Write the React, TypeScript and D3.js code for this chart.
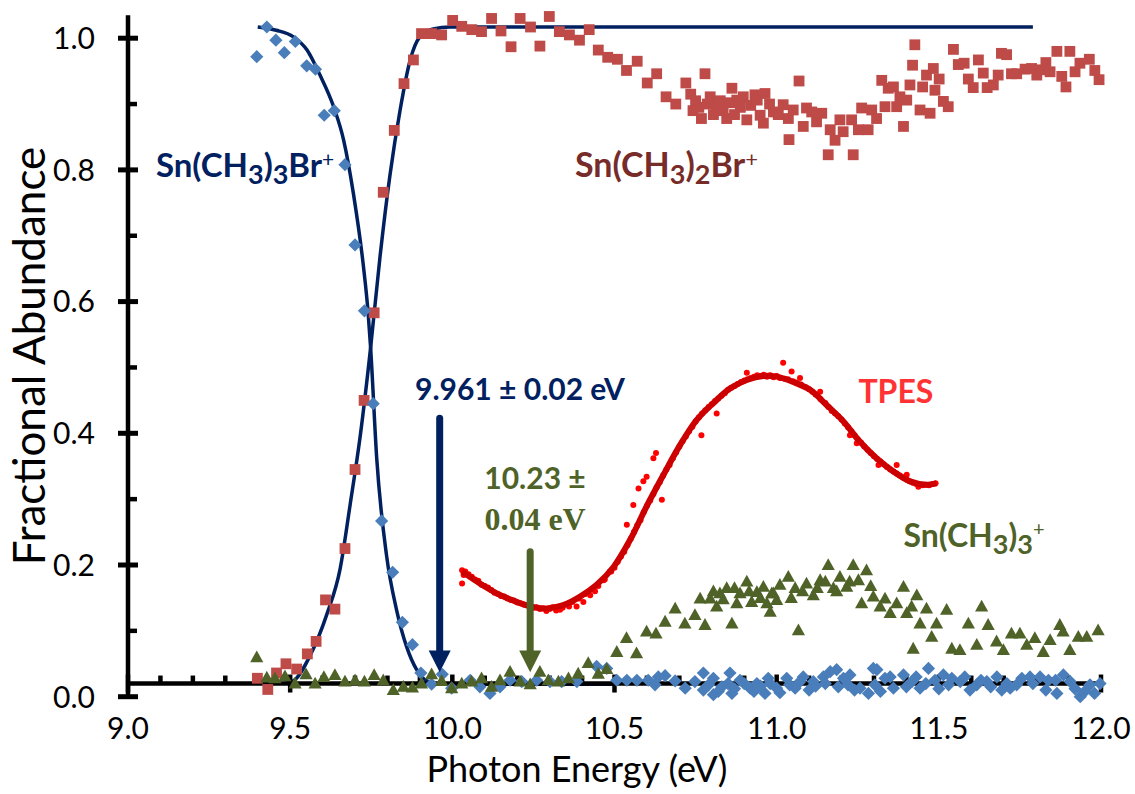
import React from 'react';
import * as d3 from 'd3';

const W = 1135;
const H = 794;

const xTickValues = [9.0, 9.5, 10.0, 10.5, 11.0, 11.5, 12.0];
const xTickLabels = ['9.0', '9.5', '10.0', '10.5', '11.0', '11.5', '12.0'];
const xMinorValues = [9.1, 9.2, 9.3, 9.4, 9.6, 9.7, 9.8, 9.9, 10.1, 10.2, 10.3, 10.4, 10.6, 10.7, 10.8, 10.9, 11.1, 11.2, 11.3, 11.4, 11.6, 11.7, 11.8, 11.9];
const yTickValues = [0, 0.2, 0.4, 0.6, 0.8, 1.0];
const yTickLabels = ['0.0', '0.2', '0.4', '0.6', '0.8', '1.0'];
const yMinorValues = [0.1, 0.3, 0.5, 0.7, 0.9];

// Sn(CH3)3Br+ (parent ion) – diamonds
const parentIon: [number, number][] = [
  [9.397, 0.972], [9.428, 1.017], [9.456, 0.997], [9.482, 0.978], [9.516, 0.995], [9.551, 0.958], [9.578, 0.953],
  [9.605, 0.883], [9.636, 0.890], [9.669, 0.808], [9.700, 0.686], [9.729, 0.586], [9.756, 0.445], [9.782, 0.267],
  [9.816, 0.189], [9.846, 0.113], [9.877, 0.079], [9.903, 0.036], [9.936, 0.019], [9.969, 0.034],
  [9.998, 0.013], [10.055, 0.025], [10.085, 0.015], [10.116, 0.005], [10.147, 0.015], [10.178, 0.025], [10.214, 0.023],
  [10.260, 0.025], [10.301, 0.023], [10.337, 0.023], [10.384, 0.023], [10.445, 0.046], [10.476, 0.043], [10.507, 0.025],
  [10.538, 0.025], [10.569, 0.025], [10.604, 0.025], [10.635, 0.030], [10.625, 0.018], [10.656, 0.032], [10.687, 0.024],
  [10.718, 0.013], [10.748, 0.023], [10.774, 0.036], [10.774, 0.010], [10.805, 0.028], [10.805, 0.003], [10.831, 0.015],
  [10.856, 0.036], [10.862, 0.005], [10.887, 0.025], [10.918, 0.013], [10.939, 0.020], [10.964, 0.005], [10.974, 0.028],
  [11.000, 0.013], [11.031, 0.028], [11.057, 0.013], [11.082, 0.030], [11.113, 0.023], [11.144, 0.030], [11.165, 0.038],
  [11.185, 0.041], [11.206, 0.028], [11.226, 0.033], [11.257, 0.013], [11.283, 0.005], [11.298, 0.043],
  [10.790, 0.018], [10.820, 0.008], [10.850, 0.020], [10.870, 0.012], [10.900, 0.020], [10.930, 0.008], [10.950, 0.016],
  [10.980, 0.020], [11.010, 0.006], [11.040, 0.018], [11.070, 0.022], [11.100, 0.010], [11.120, 0.016], [11.150, 0.020],
  [11.190, 0.015], [11.220, 0.018], [11.240, 0.010],
  [11.309, 0.041], [11.303, 0.018], [11.334, 0.028], [11.360, 0.013], [11.391, 0.033], [11.417, 0.023], [11.442, 0.013],
  [11.468, 0.043], [11.488, 0.025], [11.514, 0.033], [11.540, 0.028], [11.566, 0.023], [11.596, 0.010], [11.617, 0.018],
  [11.648, 0.023], [11.679, 0.030], [11.694, 0.010], [11.720, 0.013], [11.756, 0.028], [11.781, 0.030], [11.812, 0.030],
  [11.838, 0.025], [11.864, 0.005], [11.884, 0.033], [11.905, 0.023], [11.936, 0.000], [11.966, 0.018], [11.997, 0.020],
  [11.320, 0.008], [11.350, 0.030], [11.400, 0.015], [11.430, 0.030], [11.460, 0.020], [11.500, 0.012], [11.530, 0.018],
  [11.580, 0.030], [11.630, 0.025], [11.660, 0.015], [11.710, 0.020], [11.740, 0.018], [11.790, 0.020], [11.830, 0.010],
  [11.860, 0.025], [11.920, 0.012], [11.950, 0.008], [11.980, 0.005],
];

// Sn(CH3)2Br+ (daughter ion) – squares
const daughterIon: [number, number][] = [
  [9.399, 0.028], [9.431, 0.011], [9.458, 0.036], [9.487, 0.050], [9.520, 0.042], [9.553, 0.065], [9.580, 0.084],
  [9.609, 0.147], [9.638, 0.133], [9.669, 0.225], [9.700, 0.345], [9.728, 0.450], [9.759, 0.583], [9.787, 0.766],
  [9.821, 0.860], [9.851, 0.931], [9.880, 0.967], [9.905, 1.007], [9.936, 1.007], [9.967, 1.005], [10.001, 1.027],
  [10.029, 1.018], [10.060, 1.013], [10.090, 1.010], [10.121, 1.030], [10.150, 1.011], [10.181, 0.987], [10.209, 1.030],
  [10.241, 1.017], [10.270, 0.988], [10.299, 1.033], [10.330, 1.010], [10.361, 1.005], [10.392, 0.997], [10.422, 1.013],
  [10.450, 0.982], [10.479, 0.971], [10.509, 0.968], [10.537, 0.951], [10.570, 0.965], [10.601, 0.932], [10.630, 0.946],
  [10.659, 0.911], [10.689, 0.900], [10.720, 0.932], [10.750, 0.905], [10.760, 0.895], [10.768, 0.878], [10.779, 0.946],
  [10.795, 0.911], [10.815, 0.896], [10.846, 0.878], [10.862, 0.924], [10.877, 0.906], [10.897, 0.911], [10.908, 0.876],
  [10.933, 0.914], [10.949, 0.883], [10.959, 0.871], [10.964, 0.916], [10.990, 0.888], [11.020, 0.899], [11.036, 0.878],
  [11.038, 0.846], [11.051, 0.891], [11.069, 0.935], [11.082, 0.866], [11.092, 0.894], [11.108, 0.888], [11.123, 0.873],
  [11.139, 0.886], [11.159, 0.823], [11.165, 0.861], [11.180, 0.845], [11.195, 0.876], [11.205, 0.858], [11.231, 0.876],
  [11.236, 0.823], [11.252, 0.861], [11.262, 0.894], [11.282, 0.861], [11.293, 0.891], [11.308, 0.878], [11.324, 0.936],
  [11.334, 0.896], [11.344, 0.924], [11.360, 0.926], [11.370, 0.896], [11.380, 0.911], [11.391, 0.866], [11.401, 0.906],
  [11.411, 0.929], [11.419, 0.959], [11.426, 0.990], [11.442, 0.891], [11.450, 0.926], [11.462, 0.944], [11.473, 0.886],
  [11.483, 0.954], [11.488, 0.921], [11.501, 0.938], [11.514, 0.904], [11.529, 0.896], [11.545, 0.983], [11.560, 0.960],
  [11.578, 0.962], [11.591, 0.938], [11.606, 0.925], [11.622, 0.967], [11.637, 0.947], [11.649, 0.925], [11.668, 0.929],
  [11.683, 0.944], [11.693, 0.977], [11.709, 0.975], [11.724, 0.946], [11.740, 0.946], [11.766, 0.953], [11.786, 0.954],
  [11.802, 0.944], [11.817, 0.952], [11.830, 0.963], [11.843, 0.949], [11.864, 0.980], [11.879, 0.942], [11.892, 0.926],
  [11.904, 0.980], [11.920, 0.949], [11.935, 0.962], [11.964, 0.968], [11.981, 0.951], [11.994, 0.937],
  [10.735, 0.915], [10.742, 0.890], [10.786, 0.900], [10.805, 0.884], [10.826, 0.905], [10.835, 0.890], [10.855, 0.902],
  [10.870, 0.884], [10.888, 0.895], [10.920, 0.898], [10.940, 0.906], [10.978, 0.900], [11.005, 0.884],
];

// Sn(CH3)3+ – triangles
const fragmentIon: [number, number][] = [
  [9.397, 0.060], [9.428, 0.029], [9.453, 0.028], [9.484, 0.031], [9.515, 0.020], [9.549, 0.034], [9.577, 0.020],
  [9.604, 0.030], [9.638, 0.033], [9.669, 0.023], [9.700, 0.025], [9.729, 0.023], [9.759, 0.033], [9.787, 0.025],
  [9.818, 0.010], [9.849, 0.015], [9.877, 0.014], [9.905, 0.020], [9.936, 0.034], [9.967, 0.024], [9.998, 0.013],
  [10.029, 0.020], [10.059, 0.023], [10.090, 0.028], [10.121, 0.015], [10.147, 0.025], [10.178, 0.038], [10.209, 0.023],
  [10.240, 0.019], [10.270, 0.038], [10.296, 0.025], [10.327, 0.023], [10.358, 0.028], [10.388, 0.035], [10.419, 0.051],
  [10.450, 0.035], [10.476, 0.042], [10.507, 0.068], [10.537, 0.089], [10.568, 0.066], [10.599, 0.099], [10.628, 0.096],
  [10.656, 0.114], [10.687, 0.134], [10.717, 0.111], [10.748, 0.124], [10.764, 0.149], [10.779, 0.109], [10.795, 0.149],
  [10.815, 0.137], [10.825, 0.157], [10.846, 0.165], [10.862, 0.111], [10.877, 0.142], [10.887, 0.157], [10.908, 0.175],
  [10.923, 0.144], [10.939, 0.159], [10.959, 0.167], [10.970, 0.142], [10.985, 0.157], [11.000, 0.147], [10.990, 0.157],
  [10.980, 0.129], [11.036, 0.182], [11.067, 0.101], [11.057, 0.165], [11.092, 0.172], [11.113, 0.154], [11.134, 0.177],
  [11.159, 0.200], [11.175, 0.165], [11.195, 0.182], [11.216, 0.167], [11.236, 0.200], [11.252, 0.177], [11.277, 0.192],
  [11.262, 0.142], [11.298, 0.152], [11.319, 0.137], [11.334, 0.149], [11.350, 0.127], [11.370, 0.142], [11.391, 0.167],
  [11.401, 0.127], [11.416, 0.137], [11.432, 0.154], [11.421, 0.073], [11.442, 0.111], [11.462, 0.134], [11.478, 0.091],
  [11.493, 0.111], [11.524, 0.132], [11.540, 0.073], [11.565, 0.071], [11.591, 0.111], [11.617, 0.079], [11.632, 0.137],
  [11.652, 0.109], [11.678, 0.084], [11.699, 0.071], [11.724, 0.096], [11.750, 0.096], [11.771, 0.079], [11.796, 0.089],
  [11.822, 0.068], [11.843, 0.086], [11.873, 0.109], [11.883, 0.099], [11.904, 0.071], [11.930, 0.091], [11.956, 0.091],
  [11.991, 0.101],
  [10.805, 0.160], [10.835, 0.148], [10.870, 0.165], [10.915, 0.160], [10.950, 0.150], [11.010, 0.170], [11.045, 0.150],
  [11.080, 0.160], [11.125, 0.165], [11.150, 0.175], [11.185, 0.160], [11.225, 0.175], [11.290, 0.168],
];

// Fit curves
const parentFit: [number, number][] = [
  [9.400, 1.017], [9.457, 1.012], [9.510, 1.002], [9.552, 0.982], [9.592, 0.944], [9.634, 0.896], [9.665, 0.845],
  [9.695, 0.764], [9.726, 0.653], [9.740, 0.585], [9.748, 0.530], [9.767, 0.361], [9.797, 0.215], [9.828, 0.132],
  [9.859, 0.076], [9.890, 0.041], [9.921, 0.024], [9.962, 0.019], [10.100, 0.019], [10.500, 0.019],
];
const daughterFit: [number, number][] = [
  [9.480, 0.020], [9.510, 0.024], [9.561, 0.062], [9.613, 0.125], [9.654, 0.194], [9.685, 0.292], [9.716, 0.396],
  [9.748, 0.530], [9.777, 0.668], [9.808, 0.793], [9.839, 0.891], [9.870, 0.967], [9.900, 1.002], [9.941, 1.014],
  [9.993, 1.017], [10.200, 1.017], [11.790, 1.017],
];

// TPES fit and data
const tpesFit: [number, number][] = [
  [10.030, 0.190], [10.085, 0.172], [10.137, 0.157], [10.188, 0.146], [10.240, 0.137], [10.291, 0.134], [10.342, 0.139],
  [10.394, 0.152], [10.445, 0.170], [10.497, 0.197], [10.548, 0.238], [10.599, 0.289], [10.651, 0.337], [10.702, 0.382],
  [10.753, 0.420], [10.805, 0.446], [10.856, 0.468], [10.908, 0.481], [10.959, 0.487], [11.000, 0.486], [11.051, 0.478],
  [11.103, 0.466], [11.154, 0.443], [11.206, 0.418], [11.257, 0.387], [11.308, 0.362], [11.360, 0.342], [11.411, 0.327],
  [11.462, 0.322], [11.493, 0.324],
];
const tpesData: [number, number][] = [
  [10.030, 0.192], [10.035, 0.185], [10.030, 0.172], [10.040, 0.190], [10.050, 0.186], [10.060, 0.182], [10.070, 0.178],
  [10.080, 0.176], [10.090, 0.170], [10.100, 0.168], [10.110, 0.166], [10.120, 0.162], [10.130, 0.158], [10.140, 0.156],
  [10.150, 0.153], [10.160, 0.152], [10.170, 0.149], [10.180, 0.147], [10.190, 0.146], [10.200, 0.143], [10.210, 0.142],
  [10.220, 0.140], [10.230, 0.139], [10.240, 0.136], [10.250, 0.135], [10.260, 0.136], [10.270, 0.133], [10.280, 0.134],
  [10.290, 0.130], [10.300, 0.133], [10.310, 0.136], [10.320, 0.131], [10.332, 0.132], [10.340, 0.135], [10.350, 0.140],
  [10.360, 0.137], [10.370, 0.144], [10.383, 0.137], [10.390, 0.149], [10.404, 0.144], [10.410, 0.156], [10.425, 0.154],
  [10.430, 0.163], [10.440, 0.160], [10.450, 0.168], [10.466, 0.177], [10.470, 0.178], [10.486, 0.190], [10.490, 0.190],
  [10.500, 0.196], [10.510, 0.205], [10.520, 0.213], [10.530, 0.220], [10.538, 0.261], [10.540, 0.230], [10.550, 0.240],
  [10.558, 0.291], [10.560, 0.250], [10.570, 0.260], [10.574, 0.316], [10.580, 0.268], [10.589, 0.327], [10.590, 0.280],
  [10.599, 0.334], [10.600, 0.290], [10.610, 0.298], [10.620, 0.362], [10.620, 0.308], [10.628, 0.370], [10.630, 0.318],
  [10.640, 0.326], [10.646, 0.299], [10.650, 0.336], [10.660, 0.345], [10.670, 0.352], [10.680, 0.362], [10.690, 0.371],
  [10.700, 0.380], [10.710, 0.388], [10.720, 0.395], [10.730, 0.403], [10.740, 0.410], [10.750, 0.418], [10.760, 0.424],
  [10.768, 0.397], [10.770, 0.430], [10.780, 0.435], [10.790, 0.440], [10.800, 0.444], [10.810, 0.449], [10.815, 0.430],
  [10.820, 0.453], [10.830, 0.457], [10.840, 0.461], [10.850, 0.466], [10.860, 0.469], [10.870, 0.472], [10.880, 0.475],
  [10.890, 0.478], [10.900, 0.480], [10.908, 0.492], [10.910, 0.482], [10.920, 0.484], [10.930, 0.486], [10.940, 0.488],
  [10.950, 0.487], [10.960, 0.489], [10.970, 0.486], [10.980, 0.488], [10.990, 0.485], [11.000, 0.487], [11.010, 0.484],
  [11.020, 0.507], [11.025, 0.483], [11.035, 0.482], [11.046, 0.494], [11.050, 0.479], [11.060, 0.477], [11.072, 0.484],
  [11.075, 0.474], [11.090, 0.470], [11.100, 0.467], [11.110, 0.463], [11.120, 0.459], [11.134, 0.463], [11.135, 0.452],
  [11.150, 0.446], [11.160, 0.440], [11.170, 0.434], [11.180, 0.430], [11.190, 0.426], [11.200, 0.421], [11.210, 0.415],
  [11.220, 0.409], [11.226, 0.397], [11.230, 0.403], [11.240, 0.397], [11.247, 0.385], [11.250, 0.391], [11.260, 0.386],
  [11.270, 0.380], [11.280, 0.375], [11.290, 0.370], [11.300, 0.365], [11.314, 0.352], [11.310, 0.361], [11.320, 0.357],
  [11.330, 0.353], [11.340, 0.349], [11.350, 0.345], [11.360, 0.342], [11.370, 0.352], [11.370, 0.339], [11.380, 0.336],
  [11.390, 0.333], [11.401, 0.337], [11.400, 0.330], [11.410, 0.327], [11.420, 0.325], [11.430, 0.323], [11.437, 0.319],
  [11.440, 0.322], [11.450, 0.321], [11.460, 0.322], [11.470, 0.321], [11.480, 0.323], [11.490, 0.324],
];

// Annotations
const parentOnset = 9.961;
const fragmentOnset = 10.23;

const FONT = "Lato, 'Open Sans', 'DejaVu Sans', sans-serif";
const NAVY = '#002060';
const DIAMOND = '#4a7ebb';
const SQUARE = '#be4b48';
const OLIVE = '#4f6228';
const BROWN = '#772c2a';

export default function App() {
  const x = d3.scaleLinear().domain([9, 12]).range([128, 1101]);
  const y = d3.scaleLinear().domain([0, 1]).range([696.7, 38.2]);

  const fitLine = d3
    .line<[number, number]>()
    .x((d) => x(d[0]))
    .y((d) => y(d[1]))
    .curve(d3.curveMonotoneX);
  const tpesLine = d3
    .line<[number, number]>()
    .x((d) => x(d[0]))
    .y((d) => y(d[1]))
    .curve(d3.curveCatmullRom);

  const axisY = y(0.02);
  const axisX = x(9);

  const arrow = (e: number, vTop: number, color: string) => {
    const cx = x(e);
    const headTop = y(0.07);
    const tip = y(0.037);
    return (
      <g>
        <line x1={cx} x2={cx} y1={y(vTop)} y2={headTop + 2} stroke={color} strokeWidth={7} strokeLinecap="round" />
        <path d={`M${cx - 11},${headTop} L${cx + 11},${headTop} L${cx},${tip} Z`} fill={color} />
      </g>
    );
  };

  const sub = 27;
  return (
    <svg width={W} height={H} style={{ position: 'absolute', left: 0, top: 0, background: '#fff' }} fontFamily={FONT}>
      <rect x={0} y={0} width={W} height={H} fill="#fff" />

      {/* fit lines */}
      <path d={fitLine(daughterFit) || ''} fill="none" stroke={NAVY} strokeWidth={3.5} />
      <path d={fitLine(parentFit) || ''} fill="none" stroke={NAVY} strokeWidth={3.5} />

      {/* axes */}
      <line x1={axisX} x2={axisX} y1={y(1.035)} y2={y(0)} stroke="#000" strokeWidth={4.5} />
      <line x1={axisX} x2={x(12)} y1={axisY} y2={axisY} stroke="#000" strokeWidth={4.5} />
      {yTickValues.map((v) => (
        <line key={'ym' + v} x1={axisX - 10} x2={axisX + 10} y1={y(v)} y2={y(v)} stroke="#000" strokeWidth={5} />
      ))}
      {yMinorValues.map((v) => (
        <line key={'yn' + v} x1={axisX} x2={axisX + 9} y1={y(v)} y2={y(v)} stroke="#000" strokeWidth={4.5} />
      ))}
      {xTickValues.map((v) => (
        <line key={'xm' + v} x1={x(v)} x2={x(v)} y1={axisY - 9} y2={axisY + 9} stroke="#000" strokeWidth={4.5} />
      ))}
      {xMinorValues.map((v) => (
        <line key={'xn' + v} x1={x(v)} x2={x(v)} y1={axisY - 8} y2={axisY} stroke="#000" strokeWidth={4.5} />
      ))}

      {/* tick labels */}
      {yTickValues.map((v, i) => (
        <text key={'yl' + v} x={95} y={y(v)} dy="0.36em" textAnchor="end" fontSize={30} fill="#000">
          {yTickLabels[i]}
        </text>
      ))}
      {xTickValues.map((v, i) => (
        <text key={'xl' + v} x={x(v)} y={739} textAnchor="middle" fontSize={30} fill="#000">
          {xTickLabels[i]}
        </text>
      ))}

      {/* axis titles */}
      <text x={577} y={782} textAnchor="middle" fontSize={36} fill="#000">
        Photon Energy (eV)
      </text>
      <text transform="translate(45,356) rotate(-90)" textAnchor="middle" fontSize={44} fill="#000">
        Fractional Abundance
      </text>

      {/* squares */}
      {daughterIon.map((d, i) => (
        <rect key={'s' + i} x={x(d[0]) - 5.4} y={y(d[1]) - 5.4} width={10.8} height={10.8} fill={SQUARE} />
      ))}
      {/* diamonds */}
      {parentIon.map((d, i) => (
        <path
          key={'d' + i}
          transform={`translate(${x(d[0])},${y(d[1])})`}
          d="M0,-6.6 L6.6,0 L0,6.6 L-6.6,0 Z"
          fill={DIAMOND}
        />
      ))}
      {/* triangles */}
      {fragmentIon.map((d, i) => (
        <path
          key={'t' + i}
          transform={`translate(${x(d[0])},${y(d[1])})`}
          d="M0,-6.8 L6.6,5 L-6.6,5 Z"
          fill={OLIVE}
        />
      ))}

      {/* TPES */}
      {tpesData.map((d, i) => (
        <circle key={'p' + i} cx={x(d[0])} cy={y(d[1])} r={3} fill="#ff0000" />
      ))}
      <path d={tpesLine(tpesFit) || ''} fill="none" stroke="#cc0000" strokeWidth={6} />

      {/* arrows */}
      {arrow(parentOnset, 0.423, NAVY)}
      {arrow(fragmentOnset + 0.01, 0.22, OLIVE)}

      {/* labels */}
      <text x={x(9.086)} y={y(0.789)} fontSize={33} fontWeight="bold" fill={NAVY}>
        Sn(CH<tspan dy={7} fontSize={sub}>3</tspan>
        <tspan dy={-7}>)</tspan>
        <tspan dy={7} fontSize={sub}>3</tspan>
        <tspan dy={-7}>Br</tspan>
        <tspan dy={-10} fontSize={21} fontWeight="normal">+</tspan>
      </text>
      <text x={x(10.378)} y={y(0.789)} fontSize={34} fontWeight="bold" fill={BROWN}>
        Sn(CH<tspan dy={7} fontSize={sub}>3</tspan>
        <tspan dy={-7}>)</tspan>
        <tspan dy={7} fontSize={sub}>2</tspan>
        <tspan dy={-7}>Br</tspan>
        <tspan dy={-10} fontSize={22} fontWeight="normal">+</tspan>
      </text>
      <text x={x(9.885)} y={y(0.45)} fontSize={30} fontWeight="bold" fill={NAVY}>
        9.961 ± 0.02 eV
      </text>
      <text x={x(10.255)} y={y(0.315)} textAnchor="middle" fontSize={30} fontWeight="bold" fill={OLIVE}>
        10.23 ±
      </text>
      <text
        x={x(10.255)}
        y={y(0.253)}
        textAnchor="middle"
        fontSize={32}
        fontWeight="bold"
        fill={OLIVE}
        fontFamily="'Liberation Serif', 'DejaVu Serif', serif"
      >
        0.04 eV
      </text>
      <text x={x(11.252)} y={y(0.4455)} fontSize={32} fontWeight="bold" fill="#ff3333">
        TPES
      </text>
      <text x={x(11.391)} y={y(0.228)} fontSize={32} fontWeight="bold" fill={OLIVE}>
        Sn(CH<tspan dy={7} fontSize={sub}>3</tspan>
        <tspan dy={-7}>)</tspan>
        <tspan dy={7} fontSize={sub}>3</tspan>
        <tspan dy={-18} fontSize={20} fontWeight="normal">+</tspan>
      </text>
    </svg>
  );
}
